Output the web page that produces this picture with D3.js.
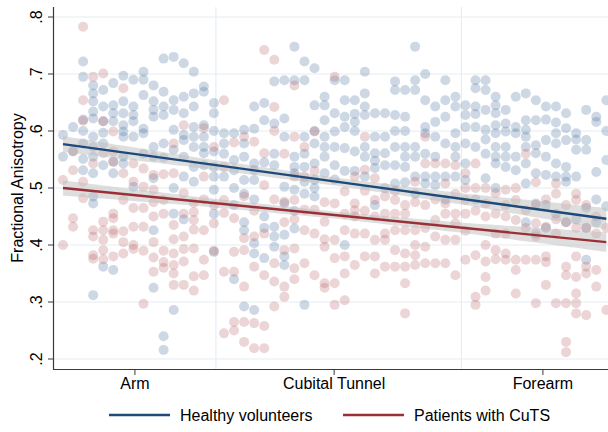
<!doctype html>
<html lang="en">
<head>
  <meta charset="utf-8">
  <title>Fractional Anisotropy along the ulnar nerve</title>
  <script src="https://d3js.org/d3.v7.min.js"></script>
  <style>
    body { margin: 0; background: #fff; }
    text { font-family: "Liberation Sans", Arial, Helvetica, sans-serif; fill: #000; }
  </style>
</head>
<body>
  <div id="chart"></div>
  <script type="text/javascript">

    var width = 608, height = 432;

    // FA values (x1000) per slice position, slice 0 = proximal arm, 54 = distal forearm
    var healthy = [
      [593,555],
      [607,564],
      [722,695,620,600,578,551,531],
      [680,666,652,634,622,590,572,555,526,485,473,312],
      [672,643,617,597,578,540,362],
      [684,645,631,617,546,526,356],
      [697,652,631,610,599,590,555,543],
      [690,643,628,617,590,502],
      [704,690,663,604,596,560],
      [680,652,637,625,572,555,517,426,325],
      [727,669,643,628,578,553,240,216],
      [730,654,637,602,567,500,455,286],
      [719,660,631,593,584,555,520,445],
      [704,666,643,607,590,572,537,511],
      [678,669,610,590,572,561,540],
      [649,631,600,564,537,520,497,455,388],
      [596,578,560,520],
      [596,549,531,500,470,340],
      [602,578,555,514,490,440,426,292],
      [643,604,543,531,514,480,403,385,286],
      [649,619,545,450,430,377],
      [687,613,560,540,432,415,397],
      [689,622,590,502,473,418,380,365],
      [748,689,555,537,526,497,460,429],
      [722,689,590,560,537,511,490,295],
      [710,645,600,578,543,514,500,485],
      [660,645,619,590,572,555,526],
      [689,631,599,572,540,515],
      [689,654,625,607,570,530,400],
      [654,630,616,600,564,530],
      [704,666,643,628,572,555,520],
      [631,590,561,548,535,470],
      [631,590,561,540,500],
      [687,672,628,600,572,540,508],
      [672,625,600,572,555,537,510],
      [748,689,672,572,555,520,490],
      [700,654,607,596,560,520,508],
      [643,616,590,555,520,505],
      [689,654,625,578,520,480],
      [660,643,596,572,555,520],
      [645,628,607,578,543,514],
      [689,675,643,630,607,572,480],
      [689,672,637,602,585,560,517],
      [660,645,631,610,596,572,555,543,500],
      [637,613,599,572,555,537],
      [660,607,596,555,531],
      [666,619,602,590,572,543,508,440],
      [654,619,575,561,526,473,420],
      [643,620,584,555,523,470,430],
      [643,615,596,578,543,520,455],
      [631,605,584,537,520,511,440],
      [596,585,567,520,445],
      [637,584,567,465,430,374],
      [625,616,528,480,440],
      [654,600,549,468]
    ];

    var patients = [
      [514,400],
      [565,531,447,432],
      [783,654,618,511,482],
      [695,543,426,415,382,376],
      [701,617,561,441,426,409,391,375],
      [599,564,546,455,447,426,420,380],
      [675,526,479,424,405,385],
      [543,511,465,432,400,393],
      [534,502,465,432,390,297],
      [523,497,475,450,405,378,353],
      [524,479,455,390,370,360],
      [578,526,435,410,385,365,350,330],
      [610,491,455,415,393,371,330],
      [474,458,444,427,394,345,320],
      [605,520,480,426,374,347],
      [572,470,438,390],
      [654,537,479,456,353,245],
      [580,447,388,353,265,250],
      [590,485,412,391,327,265,230],
      [581,460,415,362,263,219],
      [742,561,505,420,347,258,219],
      [725,642,600,480,368,336,292],
      [560,476,440,391,327,309],
      [680,590,520,479,445,394,359,340],
      [572,520,462,426,368],
      [599,530,462,420,347],
      [475,441,410,397,333,325],
      [695,473,409,377,333,295],
      [494,455,426,380,350,303],
      [520,473,461,450,420,365],
      [590,532,495,460,420,380],
      [517,479,450,409,380,350],
      [485,455,420,409,362],
      [495,479,455,426,391,362],
      [470,455,426,385,362,333,280],
      [511,475,426,400,382,365],
      [590,543,470,430,397,368],
      [543,480,444,415,368],
      [543,508,473,455,409,368],
      [540,490,455,438,409,347],
      [526,500,479,455,425,374],
      [543,500,460,382,309,295],
      [500,473,450,400,371,344,320],
      [491,455,420,391,375],
      [497,470,450,420,385,374],
      [500,479,444,374,356,315],
      [560,461,430,374],
      [510,470,438,415,374,298],
      [480,432,380,370,330],
      [508,490,445,420,298],
      [470,440,362,347,298,230,212],
      [490,479,430,380,344,315,298,280],
      [470,430,362,350,277],
      [450,420,356,327],
      [430,286]
    ];

    // fitted lines (value at first and last slice) and CI half-widths
    var fitSlices = [0, 54];
    var fitHealthy = [0.577, 0.446];
    var fitPatients = [0.500, 0.405];
    var ciSlices = [0, 13, 27, 40, 54];
    var ciHealthy = [0.014, 0.009, 0.007, 0.010, 0.019];
    var ciPatients = [0.013, 0.008, 0.006, 0.009, 0.017];

    var yTicks = [0.2, 0.3, 0.4, 0.5, 0.6, 0.7, 0.8];
    var xTickLabels = ['Arm', 'Cubital Tunnel', 'Forearm'];
    var xTickPos = [7.15, 26.95, 47.7];
    var xGridPos = [15.2, 39.6];
    var legendLabels = ['Healthy volunteers', 'Patients with CuTS'];

    var colors = { healthy: '#46709a', patients: '#b14f55' };
    var lineColors = ['#1d4a78', '#9a2f36'];

    var x = d3.scaleLinear().domain([0, 54]).range([63, 606.3]);
    var y = d3.scaleLinear().domain([0.2, 0.8]).range([359, 17]);

    var svg = d3.select('#chart')
                .append('svg')
                .attr('width', width)
                .attr('height', height);

    // gridlines
    svg.append('g').selectAll('line.hg')
       .data(yTicks).enter()
       .append('line')
       .attr('x1', 53).attr('x2', width)
       .attr('y1', function(d) { return y(d); })
       .attr('y2', function(d) { return y(d); })
       .attr('stroke', '#e6eef2').attr('stroke-width', 1.2);

    svg.append('g').selectAll('line.vg')
       .data(xGridPos).enter()
       .append('line')
       .attr('x1', function(d) { return x(d); })
       .attr('x2', function(d) { return x(d); })
       .attr('y1', 7).attr('y2', 369)
       .attr('stroke', '#e6eef2').attr('stroke-width', 1.2);

    // flatten points
    function flat(arr) {
      var out = [];
      arr.forEach(function(col, i) {
        col.forEach(function(v) { out.push({ s: i, v: v / 1000 }); });
      });
      return out;
    }

    var pts = svg.append('g');
    pts.selectAll('circle.h')
       .data(flat(healthy)).enter()
       .append('circle')
       .attr('cx', function(d) { return x(d.s); })
       .attr('cy', function(d) { return y(d.v); })
       .attr('r', 5)
       .attr('fill', colors.healthy)
       .attr('fill-opacity', 0.27);

    pts.selectAll('circle.p')
       .data(flat(patients)).enter()
       .append('circle')
       .attr('cx', function(d) { return x(d.s); })
       .attr('cy', function(d) { return y(d.v); })
       .attr('r', 5)
       .attr('fill', colors.patients)
       .attr('fill-opacity', 0.24);

    // confidence bands and fitted lines
    function fitAt(fit, s) {
      var t = (s - fitSlices[0]) / (fitSlices[1] - fitSlices[0]);
      return fit[0] + t * (fit[1] - fit[0]);
    }

    var fits = [fitHealthy, fitPatients];
    var cis = [ciHealthy, ciPatients];

    fits.forEach(function(fit, k) {
      var ciScale = d3.scaleLinear().domain(ciSlices).range(cis[k]);
      var steps = d3.range(0, 54.01, 1);
      var area = d3.area()
                   .curve(d3.curveMonotoneX)
                   .x(function(s) { return x(s); })
                   .y0(function(s) { return y(fitAt(fit, s) - ciScale(s)); })
                   .y1(function(s) { return y(fitAt(fit, s) + ciScale(s)); });
      svg.append('path')
         .attr('d', area(steps))
         .attr('fill', '#bdbdbd')
         .attr('fill-opacity', 0.5);
    });

    fits.forEach(function(fit, k) {
      svg.append('line')
         .attr('x1', x(fitSlices[0])).attr('y1', y(fit[0]))
         .attr('x2', x(fitSlices[1])).attr('y2', y(fit[1]))
         .attr('stroke', lineColors[k])
         .attr('stroke-width', 2.4);
    });

    // axes
    var yAxis = svg.append('g');
    yAxis.append('line')
         .attr('x1', 53.5).attr('x2', 53.5).attr('y1', 7).attr('y2', 369.5)
         .attr('stroke', '#3a3a3a').attr('stroke-width', 1.2);
    yAxis.selectAll('line.t').data(yTicks).enter()
         .append('line')
         .attr('x1', 48).attr('x2', 53.5)
         .attr('y1', function(d) { return y(d); })
         .attr('y2', function(d) { return y(d); })
         .attr('stroke', '#3a3a3a');
    yAxis.selectAll('text').data(yTicks).enter()
         .append('text')
         .attr('transform', function(d) { return 'translate(42,' + y(d) + ') rotate(-90)'; })
         .attr('text-anchor', 'middle')
         .style('font-size', '16px')
         .text(function(d) { return d3.format('.1f')(d).replace(/^0/, ''); });

    svg.append('text')
       .attr('transform', 'translate(23,188) rotate(-90)')
       .attr('text-anchor', 'middle')
       .style('font-size', '16px')
       .text('Fractional Anisotropy');

    var xAxis = svg.append('g');
    xAxis.append('line')
         .attr('x1', 53).attr('x2', width).attr('y1', 369.5).attr('y2', 369.5)
         .attr('stroke', '#3a3a3a').attr('stroke-width', 1.2);
    xAxis.selectAll('line.t').data(xTickPos).enter()
         .append('line')
         .attr('x1', function(d) { return x(d); })
         .attr('x2', function(d) { return x(d); })
         .attr('y1', 369.5).attr('y2', 375)
         .attr('stroke', '#3a3a3a');
    xAxis.selectAll('text').data(xTickLabels).enter()
         .append('text')
         .attr('x', function(d, i) { return x(xTickPos[i]); })
         .attr('y', 389)
         .attr('text-anchor', 'middle')
         .style('font-size', '16px')
         .text(function(d) { return d; });

    // legend
    var legendX = [109, 343];
    var legend = svg.selectAll('.legend')
                    .data(legendLabels).enter()
                    .append('g')
                    .attr('class', 'legend')
                    .attr('transform', function(d, i) { return 'translate(' + legendX[i] + ',415)'; });
    legend.append('line')
          .attr('x1', 0).attr('x2', 61).attr('y1', 0).attr('y2', 0)
          .attr('stroke', function(d, i) { return lineColors[i]; })
          .attr('stroke-width', 2.4);
    legend.append('text')
          .attr('x', 71).attr('y', 6)
          .style('font-size', '16px')
          .text(function(d) { return d; });

  </script>
</body>
</html>
